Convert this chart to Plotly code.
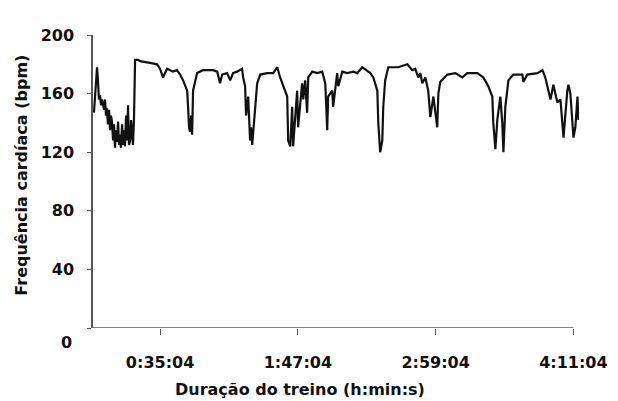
import plotly.graph_objects as go

# Time (minutes from start) and heart rate (bpm)
minutes = [0.5, 1.6, 2.1, 2.6, 3.1, 3.7, 4.2, 4.7, 5.8, 6.3, 6.8, 7.3, 7.8, 8.4, 8.9, 9.4, 9.9,
           10.5, 11.0, 11.5, 12.0, 12.6, 13.1, 13.6, 14.1, 14.6, 15.2, 15.7, 16.2, 16.7, 17.3,
           17.8, 18.3, 18.8, 19.4, 19.9, 20.4, 20.9, 21.4, 22.0, 23.5, 25.1, 29.8, 33.5, 35.0,
           36.1, 36.6, 38.7, 41.8, 43.9, 45.5, 47.1, 49.2, 49.7, 50.2, 50.7, 51.3, 51.8, 52.3,
           54.4, 57.5, 62.8, 64.9, 66.4, 67.5, 70.1, 71.7, 73.2, 75.3, 77.9, 78.5, 79.5, 80.0,
           81.1, 82.1, 82.6, 83.2, 83.7, 84.7, 85.8, 87.4, 91.0, 94.2, 96.3, 97.8, 99.4, 101.5,
           102.0, 103.1, 104.1, 104.6, 105.7, 106.7, 107.2, 109.3, 109.9, 110.9, 111.9, 112.5,
           114.6, 117.2, 119.8, 121.4, 122.4, 122.9, 125.0, 125.5, 127.6, 128.2, 130.3, 132.9,
           136.0, 138.1, 140.7, 144.9, 146.5, 148.6, 149.1, 150.1, 151.2, 151.7, 152.7, 154.3,
           159.5, 164.3, 166.9, 168.4, 170.0, 171.1, 172.1, 173.7, 175.2, 176.3, 177.9, 179.9,
           180.5, 181.5, 185.2, 189.4, 193.0, 195.6, 200.9, 204.0, 206.6, 208.7, 209.2, 210.3,
           211.3, 212.9, 213.9, 214.5, 215.5, 217.1, 219.7, 224.4, 224.9, 227.0, 232.3, 234.9,
           236.4, 238.0, 239.1, 240.6, 242.7, 244.3, 245.3, 245.9, 247.9, 248.5, 249.5, 251.1,
           252.1, 253.2, 253.7]
heart_rate = [147, 173, 178, 169, 156, 159, 152, 156, 149, 156, 145, 150, 139, 149, 135, 145, 141,
              128, 139, 123, 135, 127, 141, 125, 132, 123, 139, 125, 135, 124, 145,
              128, 152, 125, 128, 142, 135, 125, 142, 183, 183, 182, 181, 180, 177,
              173, 171, 177, 175, 176, 173, 169, 162, 151, 137, 134, 145, 132, 162,
              174, 176, 176, 175, 167, 173, 174, 169, 174, 175, 177, 171, 165, 145,
              158, 128, 137, 125, 133, 151, 167, 173, 174, 174, 178, 171, 165, 158,
              128, 124, 151, 124, 144, 162, 137, 167, 156, 169, 147, 171,
              175, 174, 175, 167, 135, 158, 162, 151, 174, 165, 175, 174,
              175, 174, 178, 174, 171, 162, 140, 120, 128, 151, 169, 178,
              178, 180, 176, 177, 171, 174, 167, 171, 162, 144, 158, 137,
              160, 168, 173, 174, 171, 174, 174, 171, 165, 158, 140, 122,
              142, 158, 140, 120, 151, 169, 173, 173, 168, 173, 174, 176,
              171, 162, 156, 166, 154, 156, 142, 130, 162, 166, 160, 130,
              137, 158, 142]

x_tick_vals = [35.067, 107.067, 179.067, 251.067]
x_tick_text = ["0:35:04", "1:47:04", "2:59:04", "4:11:04"]
y_tick_vals = [0, 40, 80, 120, 160, 200]
y_tick_text = ["", "40", "80", "120", "160", "200"]
x_title = "Duração do treino (h:min:s)"
y_title = "Frequência cardíaca (bpm)"

FONT = "DejaVu Sans"
axis_color = "#555555"
text_color = "#111111"

fig = go.Figure()
fig.add_trace(go.Scatter(x=minutes, y=heart_rate, mode="lines",
                         line=dict(color="#111111", width=2.2), showlegend=False,
                         hoverinfo="skip"))

tick_font = dict(family=FONT, size=16, color=text_color, weight="bold")

fig.update_layout(
    width=618, height=401,
    margin=dict(l=93, r=39, t=35, b=73, autoexpand=False),
    paper_bgcolor="white", plot_bgcolor="white",
    font=dict(family=FONT, size=16, color=text_color),
    xaxis=dict(range=[0, 254], tickvals=x_tick_vals, ticktext=x_tick_text,
               ticks="outside", ticklen=6, tickcolor=axis_color, tickwidth=1.2,
               showline=False, showgrid=False, zeroline=False, automargin=False,
               tickfont=tick_font, ticklabelstandoff=14),
    yaxis=dict(range=[0, 200], tickvals=y_tick_vals, ticktext=y_tick_text,
               ticks="outside", ticklen=4, tickcolor=axis_color, tickwidth=1.2,
               showline=True, linecolor=axis_color, linewidth=1.5,
               showgrid=False, zeroline=False, automargin=False,
               tickfont=tick_font, ticklabelstandoff=10),
)

# x-axis baseline up to the last labelled time
fig.add_shape(type="line", xref="x", yref="y", x0=0, x1=251.067, y0=0, y1=0,
              line=dict(color=axis_color, width=1.5))

# "0" label of the y axis, set a little below the baseline as in the original
fig.add_annotation(text="0", xref="paper", yref="paper", x=-0.04, y=-0.048,
                   xanchor="right", yanchor="middle", showarrow=False, font=tick_font)

fig.add_annotation(text=x_title, xref="paper", yref="paper", x=(300 - 93) / 486, y=-0.21,
                   xanchor="center", yanchor="middle", showarrow=False, font=tick_font)
fig.add_annotation(text=y_title, xref="paper", yref="paper", x=(22 - 93) / 486, y=0.52,
                   xanchor="center", yanchor="middle", textangle=-90, showarrow=False,
                   font=tick_font)

fig.write_html("out.html", config={"displayModeBar": False},
               post_script="document.body.style.margin='0';document.body.style.padding='0';")
